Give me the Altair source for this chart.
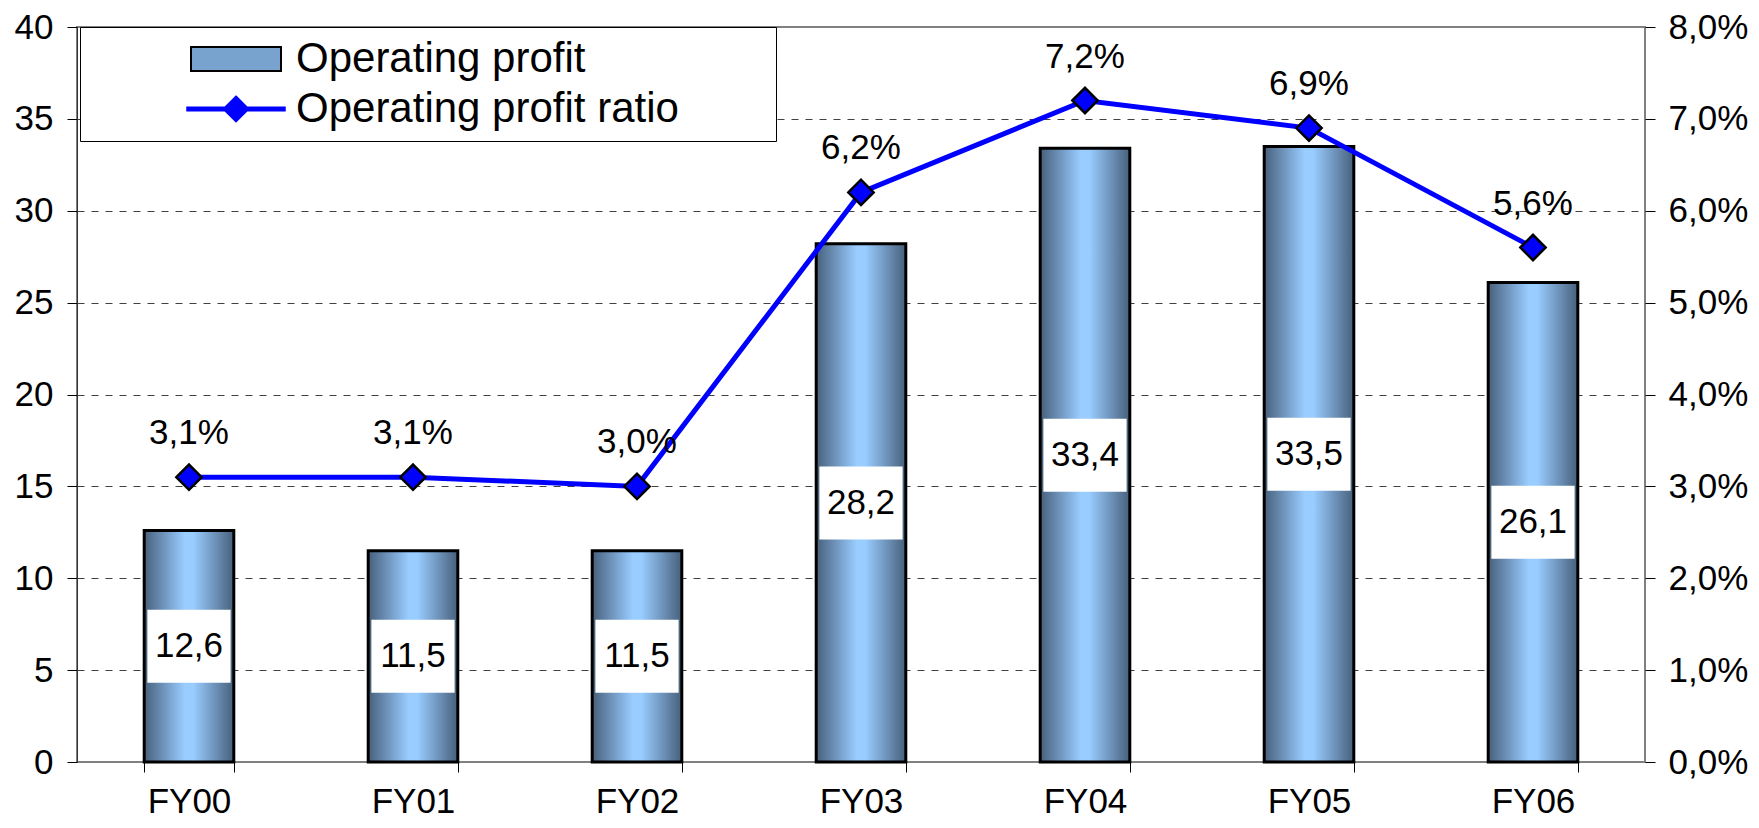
import altair as alt
import pandas as pd

# ---- data ----
categories = ["FY00", "FY01", "FY02", "FY03", "FY04", "FY05", "FY06"]
operating_profit = [12.6, 11.5, 11.5, 28.2, 33.4, 33.5, 26.1]
profit_ratio_pct = [3.1, 3.1, 3.0, 6.2, 7.2, 6.9, 5.6]
series_names = ["Operating profit", "Operating profit ratio"]
left_ticks = [0, 5, 10, 15, 20, 25, 30, 35, 40]
right_ticks = [0.0, 0.01, 0.02, 0.03, 0.04, 0.05, 0.06, 0.07, 0.08]

df = pd.DataFrame({"cat": categories, "profit": operating_profit, "ratio": profit_ratio_pct})
legend_df = pd.DataFrame({"series": series_names})

FONT = "Liberation Sans"

x_enc = alt.X(
    "cat:N",
    sort=categories,
    scale=alt.Scale(paddingInner=0.6, paddingOuter=0.3),
    axis=alt.Axis(
        title=None, labelFontSize=35, labelFont=FONT, labelColor="black",
        labelAngle=0, tickBand="extent", tickSize=10, tickColor="black",
        domain=False, grid=False, labelPadding=12,
    ),
)

left_axis = alt.Axis(
    title=None, values=left_ticks, labelFontSize=35, labelFont=FONT, labelColor="black",
    tickSize=10, tickColor="black", labelPadding=14, domainColor="#333333",
    grid=True, gridDash=[7, 7], gridColor="#404040",
    gridOpacity={"condition": {"test": "datum.value == 0 || datum.value == 40", "value": 0}, "value": 1},
)
left_scale = alt.Scale(domain=[0, 40], nice=False)

right_axis = alt.Axis(
    title=None, orient="right", values=right_ticks, labelFontSize=35, labelFont=FONT,
    labelColor="black", tickSize=10, tickColor="black", labelPadding=13, domain=False,
    grid=False, labelExpr="replace(format(datum.value, '.1%'), '.', ',')",
)
right_scale = alt.Scale(domain=[0, 0.08], nice=False)

bar_gradient = alt.Gradient(
    gradient="linear",
    stops=[
        alt.GradientStop(color="#47607c", offset=0),
        alt.GradientStop(color="#99ccff", offset=0.45),
        alt.GradientStop(color="#99ccff", offset=0.55),
        alt.GradientStop(color="#47607c", offset=1),
    ],
    x1=0, x2=1, y1=0, y2=0,
)

base = alt.Chart(df).transform_calculate(
    half="datum.profit / 2",
    frac="datum.ratio / 100",
    plabel="replace(format(datum.profit, '.1f'), '.', ',')",
    rlabel="replace(format(datum.ratio, '.1f'), '.', ',') + '%'",
)

bars = base.mark_bar(fill=bar_gradient, stroke="black", strokeWidth=3).encode(
    x=x_enc, y=alt.Y("profit:Q", scale=left_scale, axis=left_axis)
)
box_path = "M-1.14,-1H1.14V1H-1.14Z"
boxes = base.mark_point(shape=box_path, size=5329, filled=True, fill="white",
                        opacity=1, strokeWidth=0).encode(
    x=x_enc, y=alt.Y("half:Q", scale=left_scale, axis=left_axis)
)
bar_text = base.mark_text(fontSize=35, font=FONT, color="black", baseline="middle").encode(
    x=x_enc, y=alt.Y("half:Q", scale=left_scale, axis=left_axis), text="plabel:N"
)
left = alt.layer(bars, boxes, bar_text)

line = base.mark_line(color="#0000ff", strokeWidth=5).encode(
    x=x_enc, y=alt.Y("frac:Q", scale=right_scale, axis=right_axis)
)
points = base.mark_point(shape="diamond", size=640, filled=True, fill="#0000ff",
                         stroke="black", strokeWidth=2.5, opacity=1).encode(
    x=x_enc, y=alt.Y("frac:Q", scale=right_scale, axis=right_axis)
)
pct_text = base.mark_text(fontSize=35, font=FONT, color="black", baseline="middle", dy=-44).encode(
    x=x_enc, y=alt.Y("frac:Q", scale=right_scale, axis=right_axis), text="rlabel:N"
)
right = alt.layer(line, points, pct_text)

# legend (invisible layer that only supplies legend entries)
rect_sym = "M-3,-0.8H3V0.8H-3Z M35,0"
line_sym = "M-3.25,-0.1H3.25V0.1H-3.25Z M0,-0.83L0.83,0L0,0.83L-0.83,0Z M35,0"
leg = alt.Legend(
    title=None, orient="none", legendX=3, legendY=0, padding=11,
    fillColor="white", strokeColor="black",
    labelFont=FONT, labelFontSize=42, labelColor="black", labelLimit=0,
    symbolSize=900, symbolStrokeWidth=2, symbolOpacity=1,
    symbolOffset=124, labelOffset=39, rowPadding=8,
)
legend_layer = alt.Chart(legend_df).mark_point(filled=True, opacity=0).encode(
    shape=alt.Shape("series:N", scale=alt.Scale(domain=series_names, range=[rect_sym, line_sym]), legend=leg),
    fill=alt.Fill("series:N", scale=alt.Scale(domain=series_names, range=["#78a3cf", "#0000ff"]), legend=leg),
    stroke=alt.Stroke("series:N", scale=alt.Scale(domain=series_names, range=["#000000", "#0000ff"]), legend=leg),
)

chart = alt.layer(left, right, legend_layer).resolve_scale(y="independent").properties(
    width=1568, height=735,
    autosize=alt.AutoSizeParams(type="none"),
    padding={"left": 69, "top": 19, "right": 104, "bottom": 58},
    background="white",
).configure_view(fill="#FFFFCC", stroke="#808080", strokeWidth=2)

chart.save("out.html", embed_options={"renderer": "svg", "actions": False})
